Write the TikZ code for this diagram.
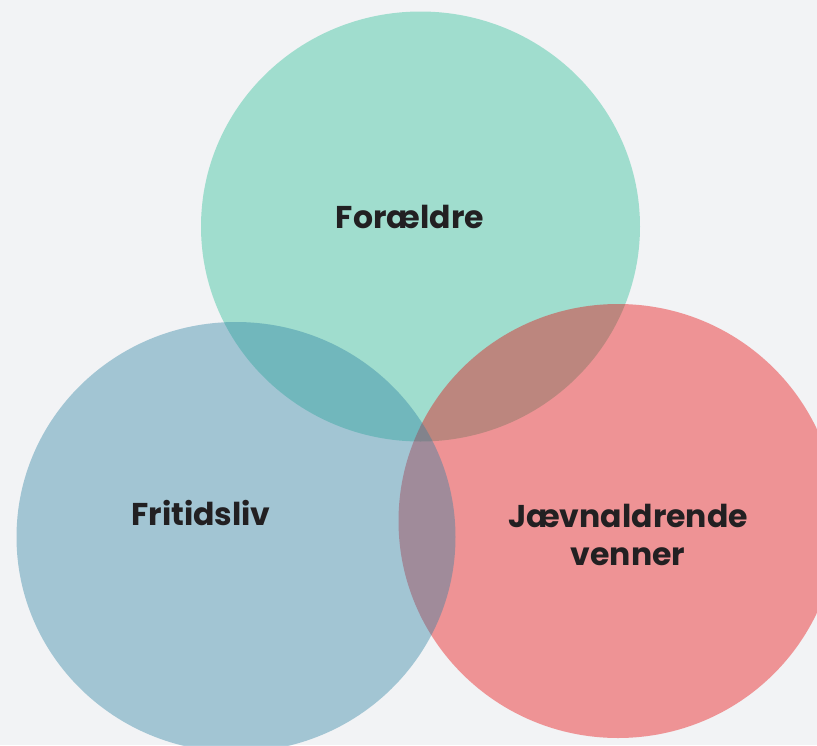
\documentclass[tikz,border=0pt]{standalone}
\usepackage{fontspec}
\setmainfont{Poppins}
\usepackage{tikz}
\usetikzlibrary{positioning}
\definecolor{bgcol}{RGB}{242,243,245}
\definecolor{parentcol}{RGB}{37,190,148}
\definecolor{peercol}{RGB}{232,5,7}
\definecolor{leisurecol}{RGB}{44,128,162}
\definecolor{txtcol}{RGB}{34,32,34}

\begin{document}
\begin{tikzpicture}[x=1pt, y=-1pt,
  blob/.style={fill opacity=0.4},
  lbl/.style={text=txtcol, align=center, font=\fontsize{31.5}{38}\selectfont\bfseries}]
% background
\fill[bgcol] (0,0) rectangle (817,745);
\useasboundingbox (0,0) rectangle (817,745);
% circles
\fill[blob, parentcol] (420.5,226.5) ellipse [x radius=219.5, y radius=215];
\fill[blob, peercol] (618,521) ellipse [x radius=219.5, y radius=217];
\fill[blob, leisurecol] (236,537) ellipse [x radius=219.5, y radius=215];
% labels
\node[lbl, anchor=base] (par) at (410,228) {Forældre};
\node[lbl, anchor=base] (fri) at (201,525) {Fritidsliv};
\node[lbl] (jae) at (628,535) {Jævnaldrende\\venner};
\end{tikzpicture}
\end{document}
